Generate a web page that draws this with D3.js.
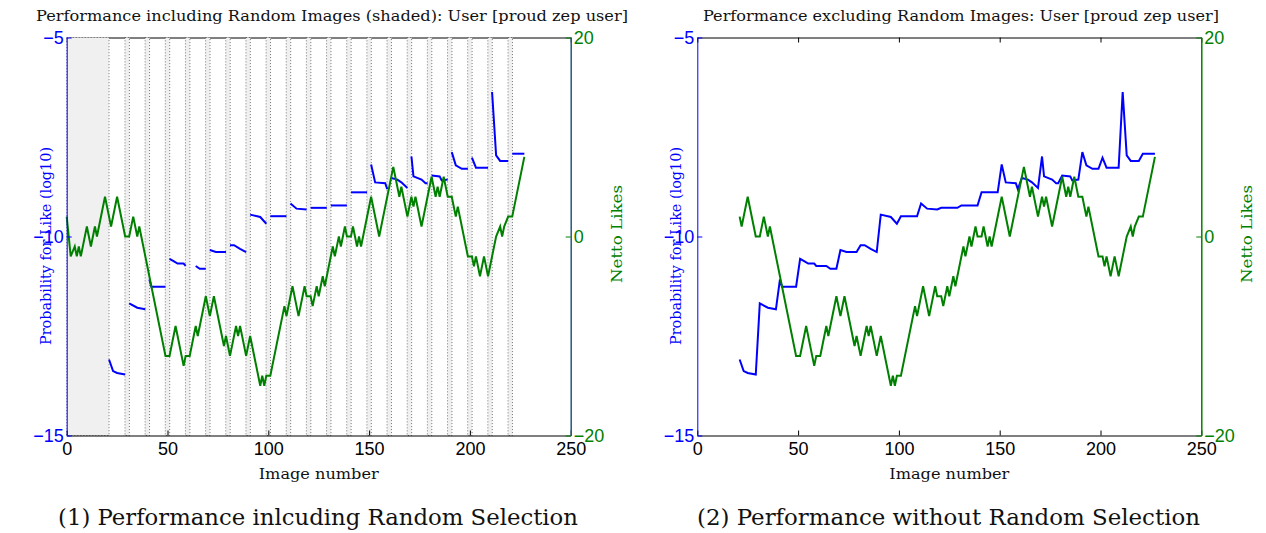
<!DOCTYPE html>
<html>
<head>
<meta charset="utf-8">
<script src="https://cdn.jsdelivr.net/npm/d3@7"></script>
<style>
  body { margin: 0; background: #fff; }
  svg text { font-family: "DejaVu Serif", serif; }
  .tick text { font-family: "Liberation Sans", Arial, sans-serif; font-size: 18px; }
</style>
</head>
<body>
<script>
// netto likes (green line), turning points of the walk
const greenImg = [0, 2, 4, 5, 6, 7, 10, 12, 14, 15, 19, 21, 22, 25, 29, 31, 33, 35, 36, 49, 51, 54, 58, 59, 61, 64, 65, 69, 71, 73, 78, 79, 81, 84, 85, 86, 89, 91, 96, 97, 98, 99, 101, 108, 109, 112, 115, 118, 119, 121, 122, 124, 125, 127, 128, 132, 133, 135, 136, 138, 139, 141, 142, 144, 145, 146, 151, 155, 162, 165, 166, 169, 171, 172, 173, 176, 181, 183, 184, 185, 186, 187, 189, 191, 193, 194, 198, 199, 201, 202, 203, 205, 207, 209, 213, 215, 216, 217, 219, 221, 227];
const greenVal = [2, -2, -1, -2, -1, -2, 1, -1, 1, 0, 4, 2, 1, 4, 0, 0, 2, 0, 1, -12, -12, -9, -13, -12, -12, -9, -10, -6, -8, -6, -11, -10, -12, -9, -10, -9, -12, -10, -15, -14, -15, -14, -14, -7, -8, -5, -8, -5, -6, -6, -7, -5, -6, -4, -5, -1, -2, 0, -1, 1, 0, 0, 1, -1, 0, -1, 4, 0, 7, 4, 5, 2, 4, 3, 4, 1, 6, 4, 5, 4, 5, 6, 4, 4, 2, 3, -1, -2, -2, -3, -2, -4, -2, -4, 0, 1, 0, 1, 2, 2, 8];

// probability for like, log10 (blue line)
const blueImg = [21, 23, 25, 29, 31, 35, 39, 41, 42, 49, 51, 53, 55, 58, 59, 64, 66, 69, 71, 74, 79, 81, 83, 86, 89, 91, 96, 99, 101, 109, 111, 114, 119, 121, 129, 131, 139, 141, 149, 151, 153, 158, 159, 161, 164, 166, 169, 171, 172, 176, 178, 179, 181, 185, 186, 189, 191, 193, 196, 199, 201, 203, 209, 211, 213, 215, 219, 221, 227];
const blueVal = [-13.09, -13.38, -13.43, -13.47, -11.68, -11.79, -11.83, -11.08, -11.26, -11.26, -10.56, -10.62, -10.68, -10.68, -10.74, -10.74, -10.81, -10.81, -10.34, -10.39, -10.39, -10.22, -10.22, -10.31, -10.39, -9.45, -9.51, -9.68, -9.49, -9.49, -9.17, -9.30, -9.32, -9.28, -9.28, -9.22, -9.22, -8.89, -8.89, -8.19, -8.64, -8.66, -8.81, -8.53, -8.57, -8.64, -8.78, -7.99, -8.49, -8.57, -8.66, -8.66, -8.47, -8.49, -8.59, -8.57, -7.88, -8.21, -8.30, -8.30, -8.02, -8.27, -8.27, -6.37, -7.96, -8.10, -8.10, -7.92, -7.92];

// images that were picked at random (shaded in the left panel)
const randomImgs = [30, 40, 50, 60, 70, 80, 90, 100, 110, 120, 130, 140, 150, 160, 170, 180, 190, 200, 210, 220];
const randomStart = [0, 21];

const xTicks = [0, 50, 100, 150, 200, 250];
const probTicks = [-5, -10, -15];
const likesTicks = [20, 0, -20];

const W = 1266, H = 533;
const yTop = 37.5, yBot = 435.5;
const BLUE = "#0000ff", GREEN = "#008000";

const svg = d3.select("body").append("svg")
  .attr("width", W)
  .attr("height", H);

const green = greenImg.map((d, i) => ({ img: d, v: greenVal[i] }));
const blue = blueImg.map((d, i) => ({ img: d, v: blueVal[i] }));

function panel(p) {
  const x = d3.scaleLinear().domain([0, 250]).range([p.x0, p.x1]);
  const yL = d3.scaleLinear().domain([-15, -5]).range([yBot, yTop]);
  const yR = d3.scaleLinear().domain([-20, 20]).range([yBot, yTop]);
  const g = svg.append("g");

  // top border with inward ticks
  g.append("g")
    .attr("transform", "translate(0," + yTop + ")")
    .call(d3.axisTop(x).tickValues(xTicks).tickSize(-5).tickSizeOuter(0).tickFormat(""))
    .call(a => a.selectAll("path, line").attr("stroke", "#000"));

  if (p.shaded) {
    const bands = [{ a: randomStart[0], b: randomStart[1] }]
      .concat(randomImgs.map(r => ({ a: r - 1.1, b: r + 1.1 })));
    g.append("g").selectAll("rect")
      .data(bands)
      .enter()
      .append("rect")
      .attr("x", d => x(d.a))
      .attr("width", d => x(d.b) - x(d.a))
      .attr("y", yTop)
      .attr("height", yBot - yTop)
      .attr("fill", "#f0f0f0")
      .attr("stroke", "#555")
      .attr("stroke-width", 0.8)
      .attr("stroke-dasharray", "1,2");
  }

  const lineL = d3.line().x(d => x(d.img)).y(d => yL(d.v));
  const lineR = d3.line().x(d => x(d.img)).y(d => yR(d.v));

  // blue: split into runs between random images on the left panel
  const runs = p.shaded
    ? Array.from(d3.group(blue, d => Math.floor(d.img / 10)).values())
    : [blue];
  g.append("g").selectAll("path")
    .data(runs)
    .enter()
    .append("path")
    .attr("d", lineL)
    .attr("fill", "none")
    .attr("stroke", BLUE)
    .attr("stroke-width", 2);

  g.append("path")
    .datum(green.filter(d => d.img >= p.greenFrom))
    .attr("d", lineR)
    .attr("fill", "none")
    .attr("stroke", GREEN)
    .attr("stroke-width", 2)
    .attr("stroke-linejoin", "miter");

  // axes
  g.append("g")
    .attr("transform", "translate(0," + yBot + ")")
    .call(d3.axisBottom(x).tickValues(xTicks).tickSize(-5).tickSizeOuter(0).tickPadding(7))
    .call(a => a.selectAll("path, line").attr("stroke", "#000"))
    .call(a => a.selectAll("text").attr("fill", "#000"));

  g.append("g")
    .attr("transform", "translate(" + p.x0 + ",0)")
    .call(d3.axisLeft(yL).tickValues(probTicks).tickSize(-5).tickSizeOuter(0).tickPadding(3))
    .call(a => a.selectAll("path, line").attr("stroke", BLUE))
    .call(a => a.selectAll("text").attr("fill", BLUE));

  g.append("g")
    .attr("transform", "translate(" + p.x1 + ",0)")
    .call(d3.axisRight(yR).tickValues(likesTicks).tickSize(-5).tickSizeOuter(0).tickPadding(3))
    .call(a => a.select("path").attr("stroke", p.rightAxis).attr("stroke-width", 1.5))
    .call(a => a.selectAll("line").attr("stroke", GREEN))
    .call(a => a.selectAll("text").attr("fill", GREEN));

  // texts
  const t = (str, cx, cy, size, len, color, rot) => {
    g.append("text")
      .attr("transform", "translate(" + cx + "," + cy + ")" + (rot ? " rotate(-90)" : ""))
      .attr("text-anchor", "middle")
      .attr("dominant-baseline", "central")
      .attr("font-size", size)
      .attr("fill", color)
      .attr("textLength", len)
      .attr("lengthAdjust", "spacingAndGlyphs")
      .text(str);
  };
  t(p.title, p.titleX, 16, 15, p.titleLen, "#111");
  t("Image number", (p.x0 + p.x1) / 2, 474, 15, 120, "#111");
  t("Probability for Like (log10)", p.x0 - 21, 246, 15, 198, BLUE, true);
  t("Netto Likes", p.x1 + 46, 234, 15, 98, GREEN, true);
  t(p.caption, p.capX, 517, 22, p.capLen, "#111");
}

panel({
  x0: 66.7, x1: 570.7, shaded: true, greenFrom: 0, rightAxis: "#1f5a7a",
  title: "Performance including Random Images (shaded): User [proud zep user]",
  titleX: 332, titleLen: 592,
  caption: "(1) Performance inlcuding Random Selection", capX: 318, capLen: 520
});

panel({
  x0: 697.3, x1: 1201.3, shaded: false, greenFrom: 21, rightAxis: GREEN,
  title: "Performance excluding Random Images: User [proud zep user]",
  titleX: 961, titleLen: 516,
  caption: "(2) Performance without Random Selection", capX: 948.5, capLen: 503
});
</script>
</body>
</html>
